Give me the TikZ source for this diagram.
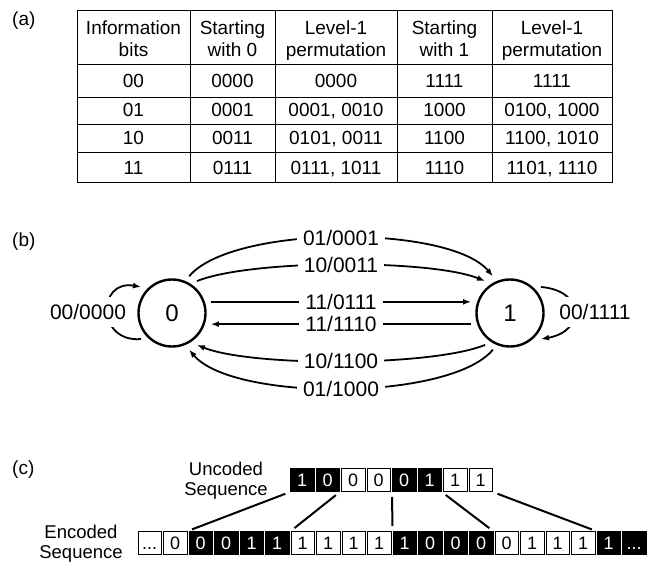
\documentclass[tikz,border=0pt]{standalone}
\usepackage{fontspec}
\setmainfont{Liberation Sans}
\usetikzlibrary{arrows.meta,calc}
\newcommand\myell{...}
\begin{document}
\begin{tikzpicture}[x=1pt,y=1pt,
  tabtext/.style={anchor=base, font=\fontsize{19}{22}\selectfont, inner sep=0pt},
  plabel/.style={anchor=base west, font=\fontsize{19}{22}\selectfont, inner sep=0pt},
  state/.style={circle, draw, line width=2.4pt, minimum size=67pt, inner sep=0pt, outer sep=7pt, font=\fontsize{24}{28}\selectfont},
  trans/.style={line width=1.8pt, -{Latex[length=8pt,width=6pt]}},
  tlabel/.style={fill=white, inner xsep=6pt, inner ysep=1pt, font=\fontsize{21}{24}\selectfont},
  looplabel/.style={fill=white, inner xsep=2pt, inner ysep=7pt, font=\fontsize{21}{24}\selectfont},
  seqlabel/.style={anchor=base, font=\fontsize{18.5}{20}\selectfont, inner sep=0pt},
  bitbox/.style={draw, line width=0.8pt, minimum width=23.5pt, minimum height=23pt, inner sep=0pt, text height=13pt, text depth=0pt, font=\fontsize{18}{20}\selectfont, anchor=south west},
  bw/.style={bitbox, fill=white, text=black},
  bb/.style={bitbox, fill=black, text=white},
  seg/.style={line width=2pt, shorten >=5pt, shorten <=5pt},
]
\useasboundingbox (0,0) rectangle (655,563);

% ---------------- (a) table ----------------
\node[plabel] (la) at (12,537) {(a)};
\draw[line width=0.9pt] (77,381) rectangle (612,553);
\foreach \yy in {499,466,439,410.5} \draw[line width=0.9pt] (77,\yy) -- (612,\yy);
\foreach \xx in {190,275,397,492} \draw[line width=0.9pt] (\xx,381) -- (\xx,553);

\node[tabtext] (h1a) at (133.5,528) {Information};
\node[tabtext] (h1b) at (133.5,506) {bits};
\node[tabtext] (h2a) at (232.5,528) {Starting};
\node[tabtext] (h2b) at (232.5,506) {with 0};
\node[tabtext] (h3a) at (336,528) {Level-1};
\node[tabtext] (h3b) at (336,506) {permutation};
\node[tabtext] (h4a) at (444.5,528) {Starting};
\node[tabtext] (h4b) at (444.5,506) {with 1};
\node[tabtext] (h5a) at (552,528) {Level-1};
\node[tabtext] (h5b) at (552,506) {permutation};

\foreach \yb/\a/\b/\c/\d/\e [count=\r] in {475/00/0000/0000/1111/1111,
  446/01/0001/{0001, 0010}/1000/{0100, 1000},
  418/10/0011/{0101, 0011}/1100/{1100, 1010},
  388/11/0111/{0111, 1011}/1110/{1101, 1110}}{
  \node[tabtext] (c\r a) at (133.5,\yb) {\a};
  \node[tabtext] (c\r b) at (232.5,\yb) {\b};
  \node[tabtext] (c\r c) at (336,\yb) {\c};
  \node[tabtext] (c\r d) at (444.5,\yb) {\d};
  \node[tabtext] (c\r e) at (552,\yb) {\e};
}

% ---------------- (b) state diagram ----------------
\node[plabel] (lb) at (12,317) {(b)};
\node[state] (n0) at (172,250) {0};
\node[state] (n1) at (510,250) {1};

\draw[trans] (n0.65) to[out=50, in=130, looseness=0.57] node[tlabel] (t1) {01/0001} (n1.115);
\draw[trans] (n0.52) to[out=22, in=158, looseness=0.52] node[tlabel] (t2) {10/0011} (n1.128);
\draw[trans] (n0.16) -- node[tlabel] (t3) {11/0111} (n1.164);
\draw[trans] (n1.196) -- node[tlabel] (t4) {11/1110} (n0.344);
\draw[trans] (n1.232) to[out=202, in=338, looseness=0.52] node[tlabel] (t5) {10/1100} (n0.308);
\draw[trans] (n1.245) to[out=230, in=310, looseness=0.57] node[tlabel] (t6) {01/1000} (n0.295);

\draw[trans] (n0.220) to[out=185, in=170, looseness=2.2] (n0.140);
\node[looplabel] (s0) at (88,251) {00/0000};
\draw[trans] (n1.40) to[out=-5, in=10, looseness=2.2] (n1.320);
\node[looplabel] (s1) at (595,251) {00/1111};

% ---------------- (c) sequences ----------------
\node[plabel] (lc) at (12,89) {(c)};
\node[seqlabel] (ul1) at (226,88) {Uncoded};
\node[seqlabel] (ul2) at (226,68) {Sequence};
\node[seqlabel] (el1) at (81,25) {Encoded};
\node[seqlabel] (el2) at (81,5) {Sequence};

\foreach \t/\s [count=\i] in {1/bb,0/bb,0/bw,0/bw,0/bb,1/bb,1/bw,1/bw}
  \node[\s] (u\i) at ({290+(\i-1)*25.5},71) {\t};

\foreach \t/\s [count=\i] in {\myell/bw,0/bw,0/bb,0/bb,1/bb,1/bb,1/bw,1/bw,1/bw,1/bw,1/bb,0/bb,0/bb,0/bb,0/bw,1/bw,1/bw,1/bw,1/bb,\myell/bb}
  \node[\s] (e\i) at ({137.5+(\i-1)*25.5},8) {\t};

\draw[seg] (u1.south west) -- (e2.north east);
\draw[seg] (u2.south east) -- (e7.north west);
\draw[seg] (u5.south west) -- (e11.north west);
\draw[seg] (u6.south east) -- (e14.north east);
\draw[seg] (u8.south east) -- (e19.north west);
\end{tikzpicture}
\end{document}
